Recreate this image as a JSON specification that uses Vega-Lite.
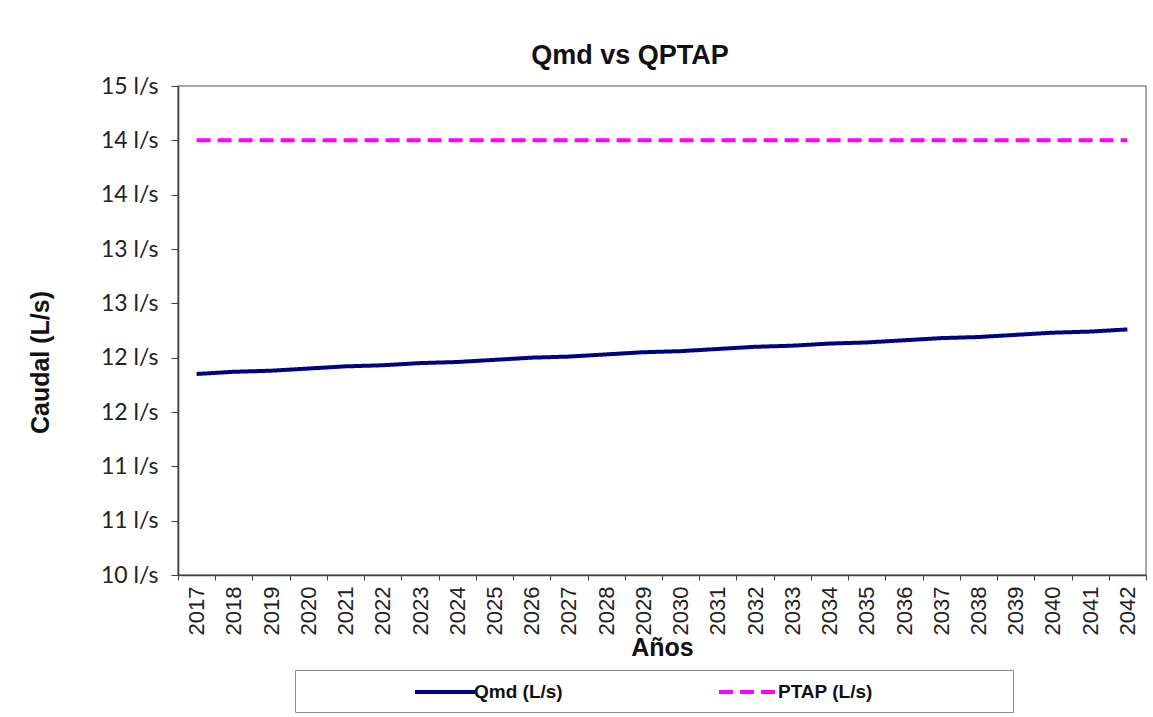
{
  "$schema": "https://vega.github.io/schema/vega-lite/v6.json",
  "width": 968,
  "height": 489,
  "autosize": {"type": "none"},
  "padding": {"left": 178, "top": 86, "right": 7, "bottom": 142},
  "background": "white",
  "config": {
    "view": {"stroke": "#8c8c8c", "strokeWidth": 1.5},
    "axis": {"domainColor": "#404040", "tickColor": "#404040", "grid": false}
  },
  "title": {
    "text": "Qmd vs QPTAP",
    "font": "Liberation Sans",
    "fontSize": 27,
    "fontWeight": "bold",
    "color": "#111111",
    "anchor": "middle",
    "frame": "group",
    "offset": 5,
    "dx": -32
  },
  "data": {
    "values": [
      {"year": "2017", "serie": "Qmd (L/s)", "value": 11.85},
      {"year": "2018", "serie": "Qmd (L/s)", "value": 11.87},
      {"year": "2019", "serie": "Qmd (L/s)", "value": 11.88},
      {"year": "2020", "serie": "Qmd (L/s)", "value": 11.9},
      {"year": "2021", "serie": "Qmd (L/s)", "value": 11.92},
      {"year": "2022", "serie": "Qmd (L/s)", "value": 11.93},
      {"year": "2023", "serie": "Qmd (L/s)", "value": 11.95},
      {"year": "2024", "serie": "Qmd (L/s)", "value": 11.96},
      {"year": "2025", "serie": "Qmd (L/s)", "value": 11.98},
      {"year": "2026", "serie": "Qmd (L/s)", "value": 12.0},
      {"year": "2027", "serie": "Qmd (L/s)", "value": 12.01},
      {"year": "2028", "serie": "Qmd (L/s)", "value": 12.03},
      {"year": "2029", "serie": "Qmd (L/s)", "value": 12.05},
      {"year": "2030", "serie": "Qmd (L/s)", "value": 12.06},
      {"year": "2031", "serie": "Qmd (L/s)", "value": 12.08},
      {"year": "2032", "serie": "Qmd (L/s)", "value": 12.1},
      {"year": "2033", "serie": "Qmd (L/s)", "value": 12.11},
      {"year": "2034", "serie": "Qmd (L/s)", "value": 12.13},
      {"year": "2035", "serie": "Qmd (L/s)", "value": 12.14},
      {"year": "2036", "serie": "Qmd (L/s)", "value": 12.16},
      {"year": "2037", "serie": "Qmd (L/s)", "value": 12.18},
      {"year": "2038", "serie": "Qmd (L/s)", "value": 12.19},
      {"year": "2039", "serie": "Qmd (L/s)", "value": 12.21},
      {"year": "2040", "serie": "Qmd (L/s)", "value": 12.23},
      {"year": "2041", "serie": "Qmd (L/s)", "value": 12.24},
      {"year": "2042", "serie": "Qmd (L/s)", "value": 12.26},
      {"year": "2017", "serie": "PTAP (L/s)", "value": 14},
      {"year": "2018", "serie": "PTAP (L/s)", "value": 14},
      {"year": "2019", "serie": "PTAP (L/s)", "value": 14},
      {"year": "2020", "serie": "PTAP (L/s)", "value": 14},
      {"year": "2021", "serie": "PTAP (L/s)", "value": 14},
      {"year": "2022", "serie": "PTAP (L/s)", "value": 14},
      {"year": "2023", "serie": "PTAP (L/s)", "value": 14},
      {"year": "2024", "serie": "PTAP (L/s)", "value": 14},
      {"year": "2025", "serie": "PTAP (L/s)", "value": 14},
      {"year": "2026", "serie": "PTAP (L/s)", "value": 14},
      {"year": "2027", "serie": "PTAP (L/s)", "value": 14},
      {"year": "2028", "serie": "PTAP (L/s)", "value": 14},
      {"year": "2029", "serie": "PTAP (L/s)", "value": 14},
      {"year": "2030", "serie": "PTAP (L/s)", "value": 14},
      {"year": "2031", "serie": "PTAP (L/s)", "value": 14},
      {"year": "2032", "serie": "PTAP (L/s)", "value": 14},
      {"year": "2033", "serie": "PTAP (L/s)", "value": 14},
      {"year": "2034", "serie": "PTAP (L/s)", "value": 14},
      {"year": "2035", "serie": "PTAP (L/s)", "value": 14},
      {"year": "2036", "serie": "PTAP (L/s)", "value": 14},
      {"year": "2037", "serie": "PTAP (L/s)", "value": 14},
      {"year": "2038", "serie": "PTAP (L/s)", "value": 14},
      {"year": "2039", "serie": "PTAP (L/s)", "value": 14},
      {"year": "2040", "serie": "PTAP (L/s)", "value": 14},
      {"year": "2041", "serie": "PTAP (L/s)", "value": 14},
      {"year": "2042", "serie": "PTAP (L/s)", "value": 14}
    ]
  },
  "mark": {"type": "line", "strokeWidth": 4, "strokeCap": "butt"},
  "encoding": {
    "x": {
      "field": "year",
      "type": "ordinal",
      "bandPosition": 0.5,
      "scale": {"type": "band", "paddingInner": 0, "paddingOuter": 0},
      "axis": {
        "title": "Años",
        "titleFont": "Liberation Sans",
        "titleFontSize": 25,
        "titleFontWeight": "bold",
        "titleColor": "#111111",
        "titlePadding": 1,
        "labelAngle": -90,
        "labelFont": "Liberation Sans",
        "labelFontSize": 22,
        "labelColor": "#222222",
        "labelPadding": 6,
        "tickSize": 5,
        "tickBand": "extent",
        "domainWidth": 1.5
      }
    },
    "y": {
      "field": "value",
      "type": "quantitative",
      "scale": {"domain": [10, 14.5], "nice": false, "zero": false},
      "axis": {
        "values": [10, 10.5, 11, 11.5, 12, 12.5, 13, 13.5, 14, 14.5],
        "labelExpr": "round(datum.value) + ' l/s'",
        "labelFont": "Lato",
        "labelFontSize": 23,
        "labelColor": "#222222",
        "labelPadding": 13,
        "tickSize": 7,
        "domainWidth": 1.5,
        "title": "Caudal (L/s)",
        "titleFont": "Liberation Sans",
        "titleFontSize": 25,
        "titleFontWeight": "bold",
        "titleColor": "#111111",
        "titleAngle": 270,
        "titleBaseline": "bottom",
        "titleAlign": "center",
        "titleX": -125,
        "titleY": 276
      }
    },
    "color": {
      "field": "serie",
      "type": "nominal",
      "scale": {"domain": ["Qmd (L/s)", "PTAP (L/s)"], "range": ["#000080", "#FF00FF"]},
      "legend": {
        "title": " ",
        "titleOrient": "right",
        "titlePadding": 130,
        "titleFontSize": 4,
        "orient": "none",
        "legendX": 117,
        "legendY": 584,
        "direction": "horizontal",
        "symbolType": "M-3,0H3",
        "symbolSize": 400,
        "symbolStrokeWidth": 4,
        "labelFont": "Liberation Sans",
        "labelFontSize": 19,
        "labelFontWeight": "bold",
        "labelColor": "#111111",
        "labelOffset": 17,
        "strokeColor": "#8c8c8c",
        "padding": 10,
        "columnPadding": 46,
        "symbolOffset": 128
      }
    },
    "strokeDash": {
      "field": "serie",
      "type": "nominal",
      "scale": {"domain": ["Qmd (L/s)", "PTAP (L/s)"], "range": [[1, 0], [14, 7]]},
      "legend": {
        "title": " ",
        "titleOrient": "right",
        "titlePadding": 130,
        "titleFontSize": 4,
        "orient": "none",
        "legendX": 117,
        "legendY": 584,
        "direction": "horizontal",
        "symbolType": "M-3,0H3",
        "symbolSize": 400,
        "symbolStrokeWidth": 4,
        "labelFont": "Liberation Sans",
        "labelFontSize": 19,
        "labelFontWeight": "bold",
        "labelColor": "#111111",
        "labelOffset": 17,
        "strokeColor": "#8c8c8c",
        "padding": 10,
        "columnPadding": 46,
        "symbolOffset": 128
      }
    }
  }
}
